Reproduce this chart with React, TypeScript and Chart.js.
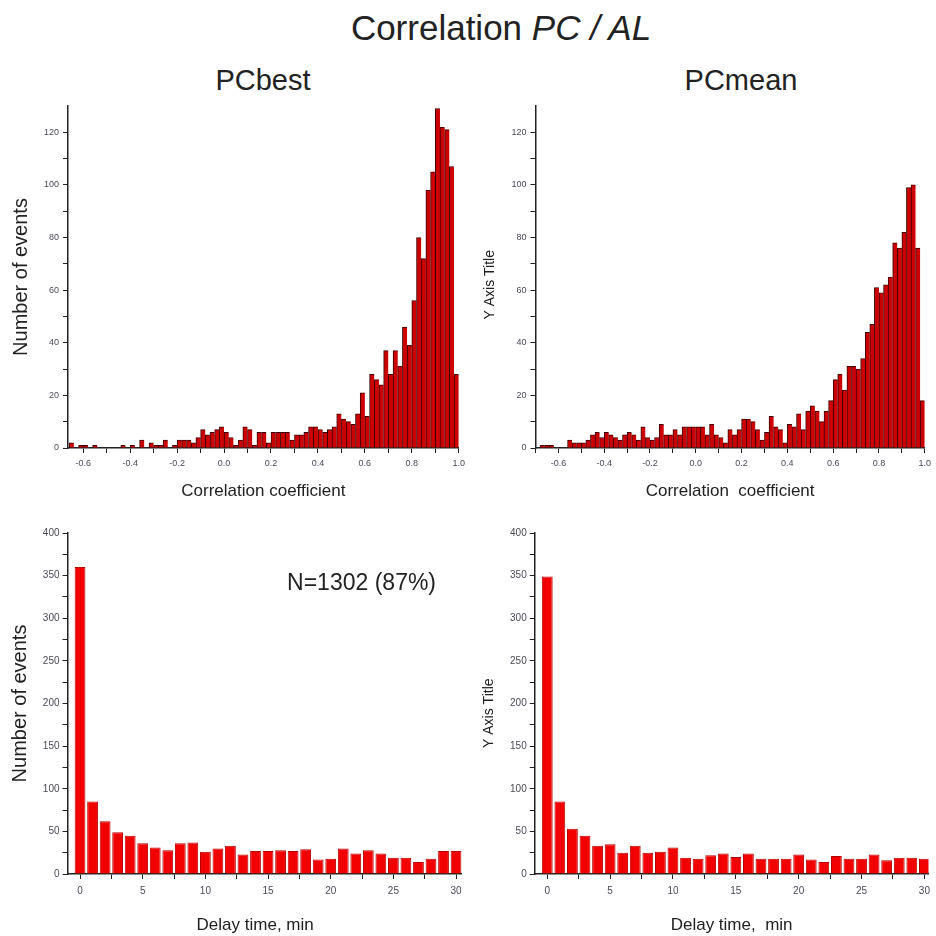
import React, { useEffect, useRef } from 'react';
import { Chart, registerables } from 'chart.js';

Chart.register(...registerables);

const FONT = '"Liberation Sans", Arial, Helvetica, sans-serif';
Chart.defaults.font.family = FONT;

// ---------- Top row: correlation-coefficient histograms (bin width 0.02) ----------
const CORR_BIN_WIDTH = 0.02;
const PCBEST_FIRST_BIN = -0.66;
const PCMEAN_FIRST_BIN = -0.7;

const PCBEST_CORR_COUNTS = [
  2, 0, 1, 1, 0, 1, 0, 0, 0, 0,
  0, 1, 0, 1, 0, 3, 0, 2, 1, 1,
  3, 0, 1, 3, 3, 3, 2, 4, 7, 5,
  6, 7, 8, 6, 4, 1, 3, 8, 7, 1,
  6, 6, 2, 6, 6, 6, 6, 3, 5, 5,
  6, 8, 8, 7, 6, 7, 8, 13, 11, 10,
  9, 13, 21, 12, 28, 26, 24, 37, 28, 37,
  31, 46, 39, 56, 80, 72, 98, 105, 129, 122,
  121, 107, 28,
];

const PCMEAN_CORR_COUNTS = [
  0, 1, 1, 1, 0, 0, 0, 3, 2, 2,
  2, 3, 5, 6, 4, 6, 5, 4, 3, 5,
  6, 5, 3, 8, 4, 3, 4, 9, 5, 5,
  7, 5, 8, 8, 8, 8, 8, 5, 9, 5,
  4, 2, 7, 5, 7, 11, 11, 10, 7, 3,
  6, 12, 8, 7, 2, 9, 8, 13, 7, 14,
  16, 14, 10, 14, 18, 26, 28, 22, 31, 31,
  30, 34, 44, 47, 61, 59, 62, 65, 78, 76,
  82, 99, 100, 76, 18,
];

const CORR_MAJOR_TICKS = [-0.6, -0.4, -0.2, 0.0, 0.2, 0.4, 0.6, 0.8, 1.0];
const CORR_MINOR_TICKS = [-0.7, -0.5, -0.3, -0.1, 0.1, 0.3, 0.5, 0.7, 0.9];
const TOP_COUNT_MAJOR = [0, 20, 40, 60, 80, 100, 120];
const TOP_COUNT_MINOR = [10, 30, 50, 70, 90, 110];

// ---------- Bottom row: delay-time histograms ----------
const DELAY_MINUTES = [
  0, 1, 2, 3, 4, 5, 6, 7, 8, 9, 10, 11, 12, 13, 14, 15,
  16, 17, 18, 19, 20, 21, 22, 23, 24, 25, 26, 27, 28, 29, 30,
];
const PCBEST_DELAY_COUNTS = [
  360, 85, 62, 49, 45, 36, 31, 28, 36, 37, 26, 30, 33, 23, 27, 27,
  28, 27, 29, 17, 18, 30, 24, 28, 24, 19, 19, 14, 18, 27, 27,
];
const PCMEAN_DELAY_COUNTS = [
  349, 85, 53, 45, 33, 35, 25, 33, 25, 26, 31, 19, 18, 22, 24, 20,
  24, 18, 18, 18, 23, 17, 14, 21, 18, 18, 23, 16, 19, 19, 18,
];
const DELAY_MAJOR_TICKS = [0, 5, 10, 15, 20, 25, 30];
const DELAY_MINOR_TICKS = [2.5, 7.5, 12.5, 17.5, 22.5, 27.5];
const BOTTOM_COUNT_MAJOR = [0, 50, 100, 150, 200, 250, 300, 350, 400];
const BOTTOM_COUNT_MINOR = [25, 75, 125, 175, 225, 275, 325, 375];

const NOTE_TEXT = 'N=1302 (87%)';

// ---------- helpers ----------
const histPoints = (first: number, width: number, counts: number[]) =>
  counts.map((c, i) => ({ x: first + width * (i + 0.5), y: c }));

const pairPoints = (xs: number[], ys: number[]) => xs.map((x, i) => ({ x, y: ys[i] }));

const notePlugin = {
  id: 'panelNote',
  afterDatasetsDraw(chart: any, _args: any, opts: any) {
    if (!opts || !opts.text) return;
    const { ctx, scales } = chart;
    ctx.save();
    ctx.font = `${opts.size}px ${FONT}`;
    ctx.fillStyle = opts.color;
    ctx.textAlign = 'center';
    ctx.textBaseline = 'middle';
    ctx.fillText(opts.text, scales.x.getPixelForValue(opts.x), scales.y.getPixelForValue(opts.y));
    ctx.restore();
  },
};

type Spec = {
  left: number; top: number; width: number; height: number;
  padding: { top: number; right: number; bottom: number; left: number };
  yWidth: number; xHeight: number;
  xMin: number; xMax: number; yMax: number;
  points: { x: number; y: number }[];
  fill: string; edge: string; borderWidth: any; barPct: number;
  xMajor: number[]; xMinor: number[]; yMajor: number[]; yMinor: number[];
  xFmt: (v: number) => string;
  tickSize: number; xTickPad: number; yTickPad: number;
  xTitle: string; xTitleSize: number; xTitlePad: number;
  yTitle: string; yTitleSize: number; yTitlePad: number;
  note?: { text: string; x: number; y: number; size: number; color: string };
};

const AXIS_COLOR = '#222';
const TICK_LABEL_COLOR = '#4a4a58';
const TITLE_COLOR = '#222';

function tickSetter(major: number[], minor: number[]) {
  return (scale: any) => {
    const lo = scale.min - 1e-9;
    const hi = scale.max + 1e-9;
    scale.ticks = [...major, ...minor]
      .filter((v) => v >= lo && v <= hi)
      .sort((a, b) => a - b)
      .map((v) => ({ value: v }));
  };
}

function labelFor(major: number[], fmt: (v: number) => string) {
  return (v: any) => {
    const n = Number(v);
    return major.some((m) => Math.abs(m - n) < 1e-9) ? fmt(n) : '';
  };
}

function buildConfig(s: Spec): any {
  return {
    type: 'bar',
    data: {
      datasets: [
        {
          data: s.points,
          backgroundColor: s.fill,
          borderColor: s.edge,
          borderWidth: s.borderWidth,
          borderSkipped: 'start',
          barPercentage: s.barPct,
          categoryPercentage: 1,
        },
      ],
    },
    options: {
      responsive: false,
      maintainAspectRatio: false,
      animation: false,
      events: [],
      layout: { padding: s.padding },
      plugins: {
        legend: { display: false },
        tooltip: { enabled: false },
        title: { display: false },
        panelNote: s.note || { text: '' },
      },
      scales: {
        x: {
          type: 'linear',
          min: s.xMin,
          max: s.xMax,
          offset: false,
          grid: {
            display: true,
            offset: false,
            drawOnChartArea: false,
            drawTicks: true,
            tickLength: 5,
            tickColor: AXIS_COLOR,
            tickWidth: 1,
          },
          border: { display: true, color: AXIS_COLOR, width: 1.5 },
          ticks: {
            autoSkip: false,
            maxRotation: 0,
            minRotation: 0,
            padding: s.xTickPad,
            color: TICK_LABEL_COLOR,
            font: { size: s.tickSize, family: FONT },
            callback: labelFor(s.xMajor, s.xFmt),
          },
          afterBuildTicks: tickSetter(s.xMajor, s.xMinor),
          afterFit: (scale: any) => {
            scale.height = s.xHeight;
          },
          title: {
            display: true,
            text: s.xTitle,
            color: TITLE_COLOR,
            font: { size: s.xTitleSize, family: FONT },
            padding: { top: 0, bottom: s.xTitlePad },
          },
        },
        y: {
          type: 'linear',
          min: 0,
          max: s.yMax,
          grid: {
            display: true,
            drawOnChartArea: false,
            drawTicks: true,
            tickLength: 5,
            tickColor: AXIS_COLOR,
            tickWidth: 1,
          },
          border: { display: true, color: AXIS_COLOR, width: 1.5 },
          ticks: {
            autoSkip: false,
            padding: s.yTickPad,
            color: TICK_LABEL_COLOR,
            font: { size: s.tickSize, family: FONT },
            callback: labelFor(s.yMajor, (v) => String(v)),
          },
          afterBuildTicks: tickSetter(s.yMajor, s.yMinor),
          afterFit: (scale: any) => {
            scale.width = s.yWidth;
          },
          title: {
            display: true,
            text: s.yTitle,
            color: TITLE_COLOR,
            font: { size: s.yTitleSize, family: FONT },
            padding: { top: s.yTitlePad, bottom: 0 },
          },
        },
      },
    },
    plugins: [notePlugin],
  };
}

const TOP_FILL = '#CC0000';
const TOP_EDGE = '#3a0000';
const BOTTOM_FILL = '#F20000';
const BOTTOM_EDGE = '#B80000';

const corrFmt = (v: number) => (Math.abs(v) < 1e-9 ? '0.0' : v.toFixed(1));

const PANELS: Spec[] = [
  {
    left: 0, top: 96, width: 470, height: 412,
    padding: { top: 10, right: 9.3, bottom: 0, left: 0 },
    yWidth: 68, xHeight: 60,
    xMin: -0.665, xMax: 1.0, yMax: 130,
    points: histPoints(PCBEST_FIRST_BIN, CORR_BIN_WIDTH, PCBEST_CORR_COUNTS),
    fill: TOP_FILL, edge: TOP_EDGE, borderWidth: { top: 1, left: 1, right: 0, bottom: 0 }, barPct: 1,
    xMajor: CORR_MAJOR_TICKS, xMinor: CORR_MINOR_TICKS, yMajor: TOP_COUNT_MAJOR, yMinor: TOP_COUNT_MINOR,
    xFmt: corrFmt,
    tickSize: 9, xTickPad: 5, yTickPad: 4,
    xTitle: 'Correlation coefficient', xTitleSize: 17, xTitlePad: 6,
    yTitle: 'Number of events', yTitleSize: 20, yTitlePad: 9,
  },
  {
    left: 470, top: 96, width: 466, height: 412,
    padding: { top: 10, right: 8.7, bottom: 0, left: 0 },
    yWidth: 65.5, xHeight: 60,
    xMin: -0.7, xMax: 1.0, yMax: 130,
    points: histPoints(PCMEAN_FIRST_BIN, CORR_BIN_WIDTH, PCMEAN_CORR_COUNTS),
    fill: TOP_FILL, edge: TOP_EDGE, borderWidth: { top: 1, left: 1, right: 0, bottom: 0 }, barPct: 1,
    xMajor: CORR_MAJOR_TICKS, xMinor: CORR_MINOR_TICKS, yMajor: TOP_COUNT_MAJOR, yMinor: TOP_COUNT_MINOR,
    xFmt: corrFmt,
    tickSize: 9, xTickPad: 5, yTickPad: 4,
    xTitle: 'Correlation  coefficient', xTitleSize: 17, xTitlePad: 6,
    yTitle: 'Y Axis Title    ', yTitleSize: 14, yTitlePad: 12,
  },
  {
    left: 0, top: 523, width: 470, height: 413,
    padding: { top: 10, right: 8.3, bottom: 0, left: 0 },
    yWidth: 67.5, xHeight: 62,
    xMin: -1, xMax: 30.45, yMax: 400,
    points: pairPoints(DELAY_MINUTES, PCBEST_DELAY_COUNTS),
    fill: BOTTOM_FILL, edge: BOTTOM_EDGE, borderWidth: 1, barPct: 0.86,
    xMajor: DELAY_MAJOR_TICKS, xMinor: DELAY_MINOR_TICKS, yMajor: BOTTOM_COUNT_MAJOR, yMinor: BOTTOM_COUNT_MINOR,
    xFmt: (v) => String(v),
    tickSize: 10, xTickPad: 6, yTickPad: 3,
    xTitle: 'Delay time, min    ', xTitleSize: 17, xTitlePad: 0,
    yTitle: 'Number of events', yTitleSize: 20, yTitlePad: 8,
    note: { text: NOTE_TEXT, x: 22.46, y: 341, size: 23, color: '#222' },
  },
  {
    left: 470, top: 523, width: 466, height: 413,
    padding: { top: 10, right: 5, bottom: 0, left: 0 },
    yWidth: 64.7, xHeight: 62,
    xMin: -1, xMax: 30.33, yMax: 400,
    points: pairPoints(DELAY_MINUTES, PCMEAN_DELAY_COUNTS),
    fill: BOTTOM_FILL, edge: BOTTOM_EDGE, borderWidth: 1, barPct: 0.86,
    xMajor: DELAY_MAJOR_TICKS, xMinor: DELAY_MINOR_TICKS, yMajor: BOTTOM_COUNT_MAJOR, yMinor: BOTTOM_COUNT_MINOR,
    xFmt: (v) => String(v),
    tickSize: 10, xTickPad: 6, yTickPad: 3,
    xTitle: 'Delay time,  min', xTitleSize: 17, xTitlePad: 0,
    yTitle: 'Y Axis Title     ', yTitleSize: 14, yTitlePad: 10.5,
  },
];

function HistPanel({ spec }: { spec: Spec }) {
  const ref = useRef<HTMLCanvasElement | null>(null);
  useEffect(() => {
    if (!ref.current) return;
    const chart = new Chart(ref.current, buildConfig(spec));
    return () => chart.destroy();
  }, [spec]);
  return (
    <canvas
      ref={ref}
      width={spec.width}
      height={spec.height}
      style={{
        position: 'absolute',
        left: spec.left,
        top: spec.top,
        width: spec.width,
        height: spec.height,
        display: 'block',
      }}
    />
  );
}

const titleStyle = (cx: number, top: number, size: number): React.CSSProperties => ({
  position: 'absolute',
  left: cx,
  top,
  transform: 'translateX(-50%)',
  fontSize: size,
  lineHeight: 1,
  whiteSpace: 'pre',
  color: '#222',
  fontFamily: FONT,
});

export default function App() {
  return (
    <div
      style={{
        position: 'absolute',
        left: 0,
        top: 0,
        width: 936,
        height: 936,
        overflow: 'hidden',
        background: '#ffffff',
        fontFamily: FONT,
      }}
    >
      <div style={titleStyle(501, 10, 35)}>
        Correlation <i>PC / AL</i>
      </div>
      <div style={titleStyle(263, 66, 29)}>PCbest</div>
      <div style={titleStyle(741, 66, 29)}>PCmean</div>
      {PANELS.map((p, i) => (
        <HistPanel key={i} spec={p} />
      ))}
    </div>
  );
}
